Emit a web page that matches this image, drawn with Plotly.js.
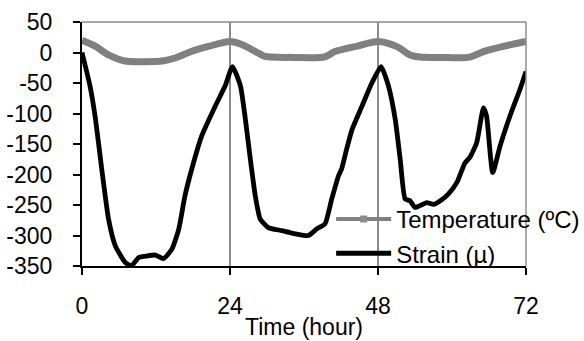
<!DOCTYPE html>
<html>
<head>
<meta charset="utf-8">
<script src="https://cdn.plot.ly/plotly-3.0.1.min.js"></script>
<style>html,body{margin:0;padding:0;background:#fff;}#chart{width:584px;height:341px;}</style>
</head>
<body>
<div id="chart"></div>
<script>
const tempHours = [0, 2.2, 4.3, 7, 9.7, 13, 15.1, 17.8, 20.5, 24, 25.9, 28.6, 29.7, 34, 39.4, 41, 44.8, 48, 51, 53.2, 54.8, 58, 62.9, 65.1, 68.3, 72];
const tempValues = [20, 10, -4, -14, -15, -14, -9, 2, 10, 18, 13, -1, -6.5, -8, -7, 1.5, 11, 18, 10, -4, -7.5, -8, -7.5, 1.5, 10, 18];

const strainHours = [0, 1.3, 2.2, 3.2, 4.3, 5.4, 7, 8, 9.2, 10.3, 11.9, 13.2, 14.6, 15.7, 16.7, 17.8, 19.4, 21.6, 23.2, 24.4, 25.7, 26.5, 27.3, 28.1, 28.9, 30.2, 32.4, 34, 36.7, 38.1, 39.4, 40.5, 41.6, 42.1, 42.9, 43.8, 45.4, 47, 48.5, 49.7, 50.8, 51.6, 52.4, 53.2, 54, 55.9, 57, 58.1, 59.4, 60.8, 62.1, 62.9, 64, 65.1, 65.6, 66.6, 67.8, 69.4, 71, 72];
const strainValues = [0, -55, -110, -191, -273, -317, -344, -350, -336, -334, -332, -338, -322, -289, -235, -191, -137, -88, -55, -23, -55, -110, -175, -235, -273, -287, -292, -296, -300, -289, -281, -240, -202, -191, -159, -126, -88, -50, -23, -55, -110, -175, -240, -243, -254, -246, -249, -243, -232, -213, -181, -172, -148, -91, -104, -197, -153, -104, -61, -31];

const xTicks = [0, 24, 48, 72];
const yTicks = [50, 0, -50, -100, -150, -200, -250, -300, -350];
const xTitle = 'Time (hour)';

const FONT = '"Liberation Sans", Arial, sans-serif';
const GRID = '#8c8c8c';

const traces = [
  {
    x: tempHours, y: tempValues, name: 'Temperature (ºC)', showlegend: false, legendgroup: 't',
    mode: 'lines', line: {color: '#808080', width: 7, shape: 'spline', smoothing: 0.8}
  },
  {
    x: strainHours, y: strainValues, name: 'Strain (µ)', showlegend: false, legendgroup: 's',
    mode: 'lines', line: {color: '#000000', width: 4.8, shape: 'spline', smoothing: 0.5}
  },
  {
    x: [null], y: [null], name: 'Temperature (ºC)', legendgroup: 't', legendrank: 1,
    mode: 'lines+markers', line: {color: '#808080', width: 4},
    marker: {symbol: 'square', size: 7, color: '#8c8c8c'}
  },
  {
    x: [null], y: [null], name: 'Strain (µ)', legendgroup: 's', legendrank: 2,
    mode: 'lines', line: {color: '#000000', width: 5}
  }
];

const layout = {
  width: 584, height: 341,
  margin: {l: 82, r: 58, t: 22, b: 75, pad: 0, autoexpand: false},
  paper_bgcolor: '#ffffff', plot_bgcolor: '#ffffff',
  font: {family: FONT, size: 23, color: '#000'},
  showlegend: true,
  legend: {
    xref: 'container', yref: 'container',
    x: 0.567, y: 0.191, xanchor: 'left', yanchor: 'bottom',
    bgcolor: 'rgba(0,0,0,0)', borderwidth: 0,
    font: {family: FONT, size: 24, color: '#000'},
    itemwidth: 55, tracegroupgap: 0, traceorder: 'normal'
  },
  xaxis: {
    range: [0, 72], tickvals: xTicks, ticktext: xTicks.map(String),
    showgrid: true, gridcolor: GRID, gridwidth: 1.5,
    showline: true, linecolor: '#000', linewidth: 2,
    ticks: 'outside', ticklen: 7, tickwidth: 2, tickcolor: '#000',
    ticklabelstandoff: 11, zeroline: false
  },
  yaxis: {
    range: [-350, 50], tickvals: yTicks, ticktext: yTicks.map(String),
    showgrid: false, showline: true, linecolor: '#000', linewidth: 2,
    ticks: 'outside', ticklen: 7, tickwidth: 2, tickcolor: '#000',
    ticklabelstandoff: 16, zeroline: false
  },
  annotations: [
    {text: xTitle, xref: 'paper', yref: 'paper', x: 0.5, y: -0.25, xanchor: 'center', yanchor: 'middle',
     showarrow: false, font: {family: FONT, size: 23, color: '#000'}}
  ],
  shapes: [
    {type: 'line', xref: 'paper', yref: 'paper', x0: 0, x1: 1, y0: 1, y1: 1, line: {color: GRID, width: 1.5}},
    {type: 'line', xref: 'paper', yref: 'paper', x0: 1, x1: 1, y0: 0, y1: 1, line: {color: GRID, width: 1.5}}
  ]
};

Plotly.newPlot('chart', traces, layout, {displayModeBar: false, staticPlot: true});
</script>
</body>
</html>
